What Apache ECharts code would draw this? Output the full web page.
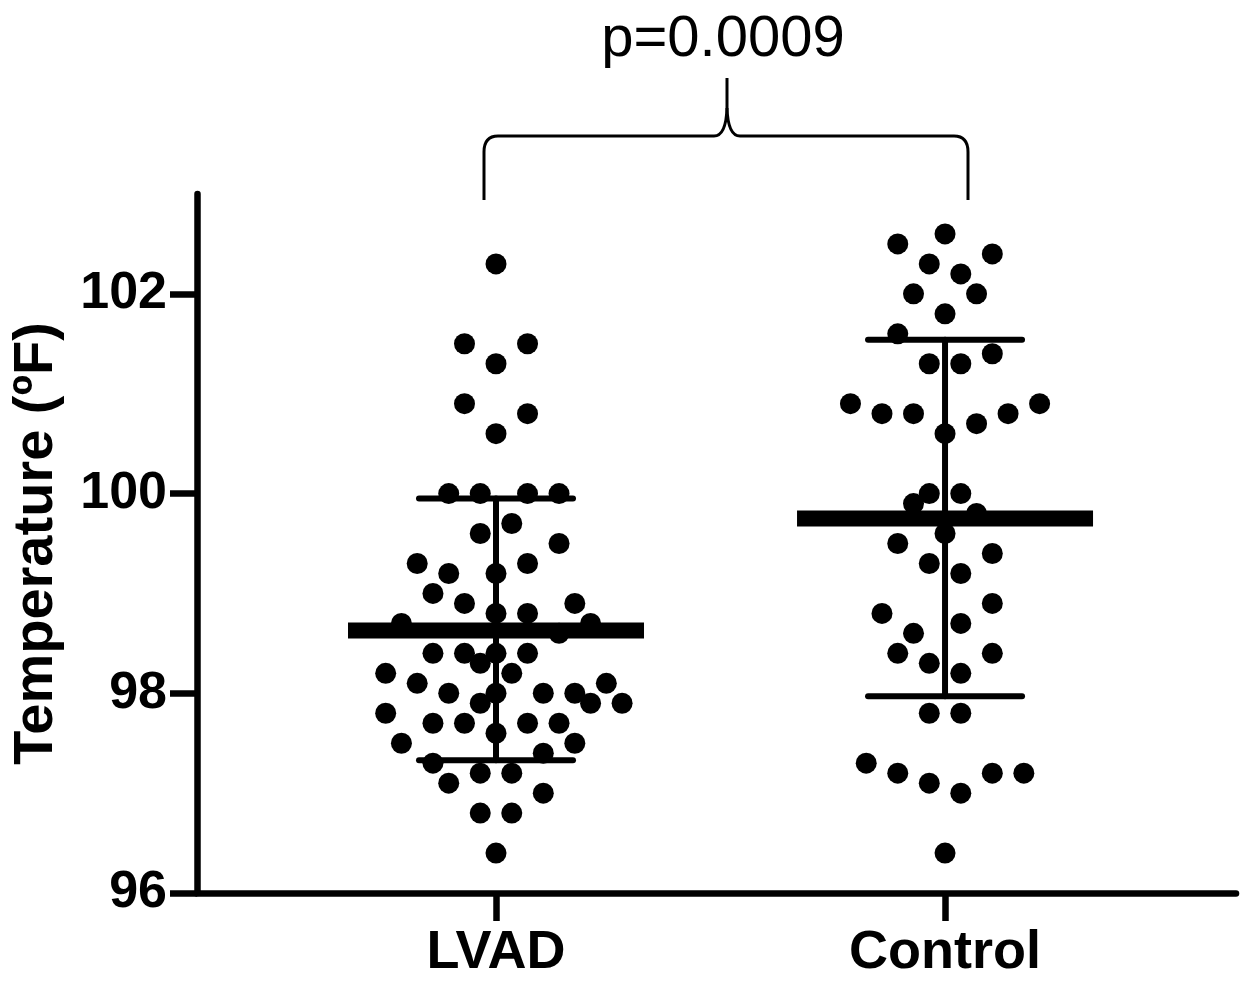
<!DOCTYPE html>
<html>
<head>
<meta charset="utf-8">
<script src="https://cdn.jsdelivr.net/npm/echarts@6/dist/echarts.min.js"></script>
<style>
html,body{margin:0;padding:0;background:#fff;}
#chart{width:1251px;height:981px;}
</style>
</head>
<body>
<div id="chart"></div>
<script>
// ---- Data ----
const categories = ['LVAD', 'Control'];
const categoryPositions = [1, 2];
const yTicks = [96, 98, 100, 102];

// LVAD temperatures (°F) and beeswarm column offsets (in half-dot steps)
const lvadTemps = [102.3, 101.5, 101.5, 101.3, 100.9, 100.8, 100.6,
  100.0, 100.0, 100.0, 100.0, 99.7, 99.6, 99.5, 99.3, 99.3, 99.2, 99.2,
  99.0, 98.9, 98.9, 98.8, 98.8, 98.7, 98.7, 98.6, 98.4, 98.4, 98.4, 98.4,
  98.3, 98.2, 98.2, 98.1, 98.1, 98.0, 98.0, 98.0, 98.0, 97.9, 97.9, 97.9,
  97.8, 97.7, 97.7, 97.7, 97.7, 97.6, 97.5, 97.5, 97.4, 97.3, 97.2, 97.2,
  97.1, 97.0, 96.8, 96.8, 96.4];
const lvadJitter = [0, -2, 2, 0, -2, 2, 0,
  -3, -1, 2, 4, 1, -1, 4, -5, 2, -3, 0,
  -4, -2, 5, 0, 2, -6, 6, 4, -4, -2, 0, 2,
  -1, 1, -7, -5, 7, -3, 0, 3, 5, -1, 6, 8,
  -7, -4, -2, 2, 4, 0, -6, 5, 3, -4, -1, 1,
  -3, 3, -1, 1, 0];

// Control temperatures (°F) and beeswarm column offsets
const controlTemps = [102.6, 102.5, 102.4, 102.3, 102.2, 102.0, 102.0,
  101.8, 101.6, 101.4, 101.3, 101.3, 100.9, 100.9, 100.8, 100.8, 100.8,
  100.7, 100.6, 100.0, 100.0, 99.9, 99.8, 99.6, 99.5, 99.4, 99.3, 99.2,
  98.9, 98.8, 98.7, 98.6, 98.4, 98.4, 98.3, 98.2, 97.8, 97.8, 97.3, 97.2,
  97.2, 97.2, 97.1, 97.0, 96.4];
const controlJitter = [0, -3, 3, -1, 1, -2, 2,
  0, -3, 3, -1, 1, -6, 6, -4, -2, 4,
  2, 0, -1, 1, -2, 2, 0, -3, 3, -1, 1,
  3, -4, 1, -2, -3, 3, -1, 1, -1, 1, -5, -3,
  3, 5, -1, 1, 0];

// Mean and SD limits
const means = [98.63, 99.75];
const sdLow = [97.33, 97.97];
const sdHigh = [99.95, 101.54];
const pValueLabel = 'p=0.0009';

// ---- Chart ----
const JITTER_STEP = 0.0351; // one half-dot step in category units
const FONT = '"Liberation Sans", Arial, Helvetica, sans-serif';

function swarm(pos, temps, jit) {
  return temps.map((t, i) => [pos + jit[i] * JITTER_STEP, t]);
}
const statData = categoryPositions.map((p, i) => [p, means[i], sdLow[i], sdHigh[i]]);

const chart = echarts.init(document.getElementById('chart'), null, {renderer: 'canvas'});
const axisStyle = {color: '#000', width: 6.5};

const bracketStyle = {stroke: '#000', lineWidth: 3, fill: null};
function seg(x1, y1, x2, y2) {
  return {type: 'line', shape: {x1, y1, x2, y2}, style: bracketStyle, silent: true};
}
function curve(x1, y1, cx, cy, x2, y2) {
  return {type: 'bezierCurve', shape: {x1, y1, cpx1: cx, cpy1: cy, x2, y2}, style: bracketStyle, silent: true};
}

chart.setOption({
  backgroundColor: '#fff',
  animation: false,
  grid: {left: 197, right: 15, top: 194, bottom: 88, containLabel: false},
  xAxis: {
    type: 'value', min: 0.3341, max: 2.648,
    splitLine: {show: false},
    axisLine: {show: true, onZero: false, lineStyle: axisStyle},
    axisTick: {show: true, customValues: categoryPositions, length: 28, lineStyle: axisStyle},
    axisLabel: {
      customValues: categoryPositions, margin: 33,
      formatter: v => categories[categoryPositions.indexOf(v)] || '',
      color: '#000', fontSize: 54, fontWeight: 'bold', fontFamily: FONT
    }
  },
  yAxis: {
    type: 'value', min: 96, max: 103,
    name: 'Temperature (ºF)', nameLocation: 'middle', nameGap: 160,
    nameTextStyle: {color: '#000', fontSize: 56, fontWeight: 'bold', fontFamily: FONT, verticalAlign: 'middle'},
    splitLine: {show: false},
    axisLine: {show: true, onZero: false, lineStyle: axisStyle},
    axisTick: {show: true, customValues: yTicks, length: 27, lineStyle: axisStyle},
    axisLabel: {customValues: yTicks, margin: 30, color: '#000', fontSize: 52, fontWeight: 'bold', fontFamily: FONT}
  },
  series: [
    {type: 'scatter', data: swarm(categoryPositions[0], lvadTemps, lvadJitter), symbolSize: 21, itemStyle: {color: '#000', opacity: 1}, z: 2},
    {type: 'scatter', data: swarm(categoryPositions[1], controlTemps, controlJitter), symbolSize: 21, itemStyle: {color: '#000', opacity: 1}, z: 2},
    {
      type: 'custom', data: statData, z: 3,
      renderItem: function (params, api) {
        const c = api.coord([api.value(0), api.value(1)]);
        const lo = api.coord([api.value(0), api.value(2)]);
        const hi = api.coord([api.value(0), api.value(3)]);
        const st = {stroke: '#000', lineWidth: 6, lineCap: 'round'};
        return {
          type: 'group',
          children: [
            {type: 'line', shape: {x1: c[0], y1: lo[1], x2: c[0], y2: hi[1]}, style: st},
            {type: 'line', shape: {x1: c[0] - 77, y1: lo[1], x2: c[0] + 77, y2: lo[1]}, style: st},
            {type: 'line', shape: {x1: c[0] - 77, y1: hi[1], x2: c[0] + 77, y2: hi[1]}, style: st},
            {type: 'line', shape: {x1: c[0] - 148, y1: c[1], x2: c[0] + 148, y2: c[1]}, style: {stroke: '#000', lineWidth: 16}}
          ]
        };
      }
    }
  ],
  graphic: [
    seg(484, 200, 484, 152),
    curve(484, 152, 484, 136, 498, 136),
    seg(498, 136, 714, 136),
    curve(714, 136, 726, 136, 727, 108),
    seg(727, 108, 727, 78),
    curve(727, 108, 728, 136, 740, 136),
    seg(740, 136, 954, 136),
    curve(954, 136, 968, 136, 968, 152),
    seg(968, 152, 968, 200),
    {
      type: 'text', x: 723, y: 40, silent: true,
      style: {text: pValueLabel, fontSize: 58, fontFamily: FONT, fill: '#000', align: 'center', verticalAlign: 'middle'}
    }
  ]
});
</script>
</body>
</html>
